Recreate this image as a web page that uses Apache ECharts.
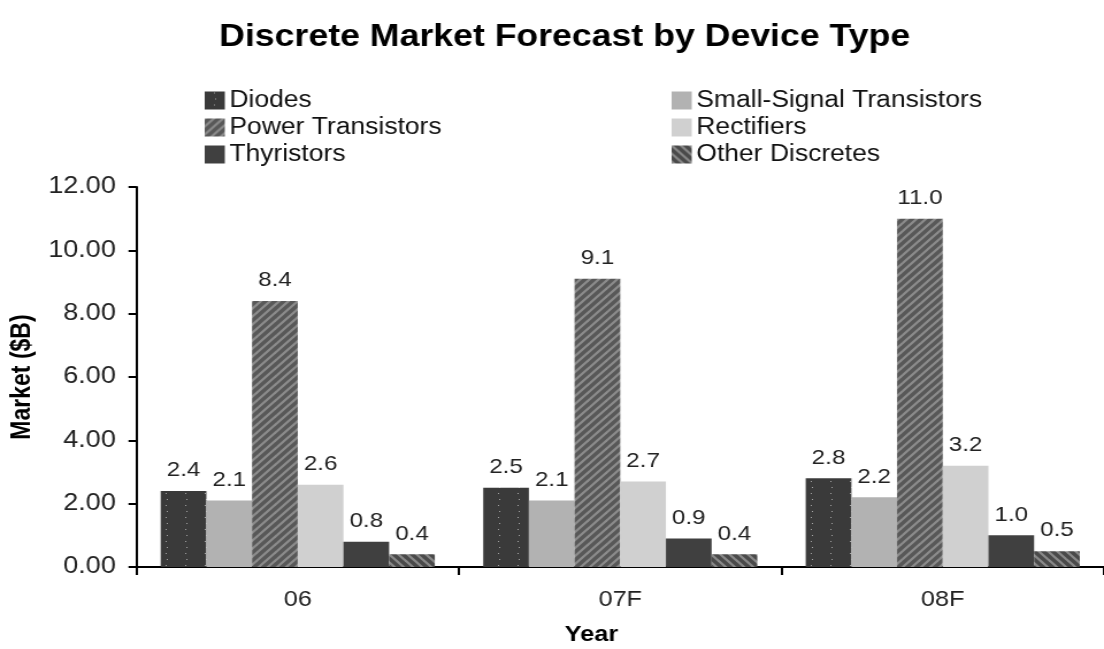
<!DOCTYPE html>
<html><head><meta charset="utf-8">
<script src="https://cdn.jsdelivr.net/npm/echarts@6/dist/echarts.min.js"></script>
<style>
html,body{margin:0;padding:0;background:#fff;overflow:hidden}
#c{width:960px;height:649px;transform:scaleX(1.15);transform-origin:0 0}
</style>
</head><body><div id="c"></div>
<script>
const categories = ['06', '07F', '08F'];
const seriesNames = ['Diodes', 'Small-Signal Transistors', 'Power Transistors', 'Rectifiers', 'Thyristors', 'Other Discretes'];
const diodes = [2.4, 2.5, 2.8];
const smallSignal = [2.1, 2.1, 2.2];
const powerTrans = [8.4, 9.1, 11.0];
const rectifiers = [2.6, 2.7, 3.2];
const thyristors = [0.8, 0.9, 1.0];
const otherDiscretes = [0.4, 0.4, 0.5];
const yTicks = [0, 2, 4, 6, 8, 10, 12];

function pat(draw, w, h) {
  const c = document.createElement('canvas'); c.width = w; c.height = h;
  const g = c.getContext('2d'); draw(g, w, h); return c;
}
const diodePat = pat((g, w, h) => {
  g.fillStyle = '#3a3a3a'; g.fillRect(0, 0, w, h);
  g.fillStyle = '#a4a4a4';
  g.fillRect(8, 1, 1, 1); g.fillRect(9, 7, 1, 1);
}, 17, 12);
const powerPat = pat((g, w, h) => {
  g.fillStyle = '#585858'; g.fillRect(0, 0, w, h);
  g.strokeStyle = '#8c8c8c'; g.lineWidth = 2.2;
  for (let k = -2; k < 4; k++) {
    g.beginPath(); g.moveTo(k * 8 - 2, h + 2); g.lineTo(k * 8 + h + 2, -2); g.stroke();
  }
}, 16, 16);
const otherPat = pat((g, w, h) => {
  g.fillStyle = '#4a4a4a'; g.fillRect(0, 0, w, h);
  g.strokeStyle = '#8a8a8a'; g.lineWidth = 2.2;
  for (let k = -2; k < 4; k++) {
    g.beginPath(); g.moveTo(k * 8 - 2, -2); g.lineTo(k * 8 + h + 2, h + 2); g.stroke();
  }
}, 16, 16);

const colors = [
  { image: diodePat, repeat: 'repeat' },
  '#b2b2b2',
  { image: powerPat, repeat: 'repeat' },
  '#d0d0d0',
  '#404040',
  { image: otherPat, repeat: 'repeat' }
];
const dataArr = [diodes, smallSignal, powerTrans, rectifiers, thyristors, otherDiscretes];

const FONT = 'Liberation Sans, Arial, sans-serif';
const legendPos = [[178, 89], [584, 89], [178, 116], [584, 116], [178, 143], [584, 143]];

const chart = echarts.init(document.getElementById('c'));
chart.setOption({
  backgroundColor: '#fff',
  animation: false,
  title: {
    text: 'Discrete Market Forecast by Device Type',
    left: 486, top: 17, textAlign: 'center',
    textStyle: { fontFamily: FONT, fontWeight: 'bold', fontSize: 31, color: '#000' }
  },
  legend: seriesNames.map((n, i) => ({
    data: [n], left: legendPos[i][0], top: legendPos[i][1],
    icon: 'rect', itemWidth: 17.5, itemHeight: 18, itemGap: 0, padding: 0,
    textStyle: { fontFamily: FONT, fontSize: 23, color: '#111', padding: [0, 0, 0, -1] }
  })),
  grid: { left: 115.7, right: -7, top: 187, bottom: 82, containLabel: false },
  xAxis: {
    type: 'category', data: categories,
    axisLine: { lineStyle: { color: '#000', width: 2 } },
    axisTick: { show: true, length: 8, lineStyle: { color: '#000', width: 2 } },
    axisLabel: { fontFamily: FONT, fontSize: 22, color: '#222', margin: 22 }
  },
  yAxis: {
    type: 'value', min: yTicks[0], max: yTicks[yTicks.length - 1], interval: 2,
    name: 'Market ($B)', nameLocation: 'middle', nameGap: 86, nameRotate: 90,
    nameTextStyle: { fontFamily: FONT, fontWeight: 'bold', fontSize: 23, color: '#000' },
    axisLine: { show: true, lineStyle: { color: '#000', width: 2 } },
    axisTick: { show: true, length: 7, lineStyle: { color: '#000', width: 2 } },
    splitLine: { show: false },
    axisLabel: { fontFamily: FONT, fontSize: 23.5, color: '#222', margin: 18, formatter: v => v.toFixed(2) }
  },
  graphic: [{
    type: 'text', left: 491, top: 624,
    style: { text: 'Year', font: 'bold 22px ' + FONT, fill: '#000' }
  }],
  series: seriesNames.map((n, i) => ({
    name: n, type: 'bar', data: dataArr[i],
    barGap: '0%', barCategoryGap: '15%',
    itemStyle: { color: colors[i] },
    label: {
      show: true, position: 'top', distance: 10,
      fontFamily: FONT, fontSize: 21, color: '#222',
      formatter: p => p.value.toFixed(1)
    }
  }))
});
</script></body></html>
